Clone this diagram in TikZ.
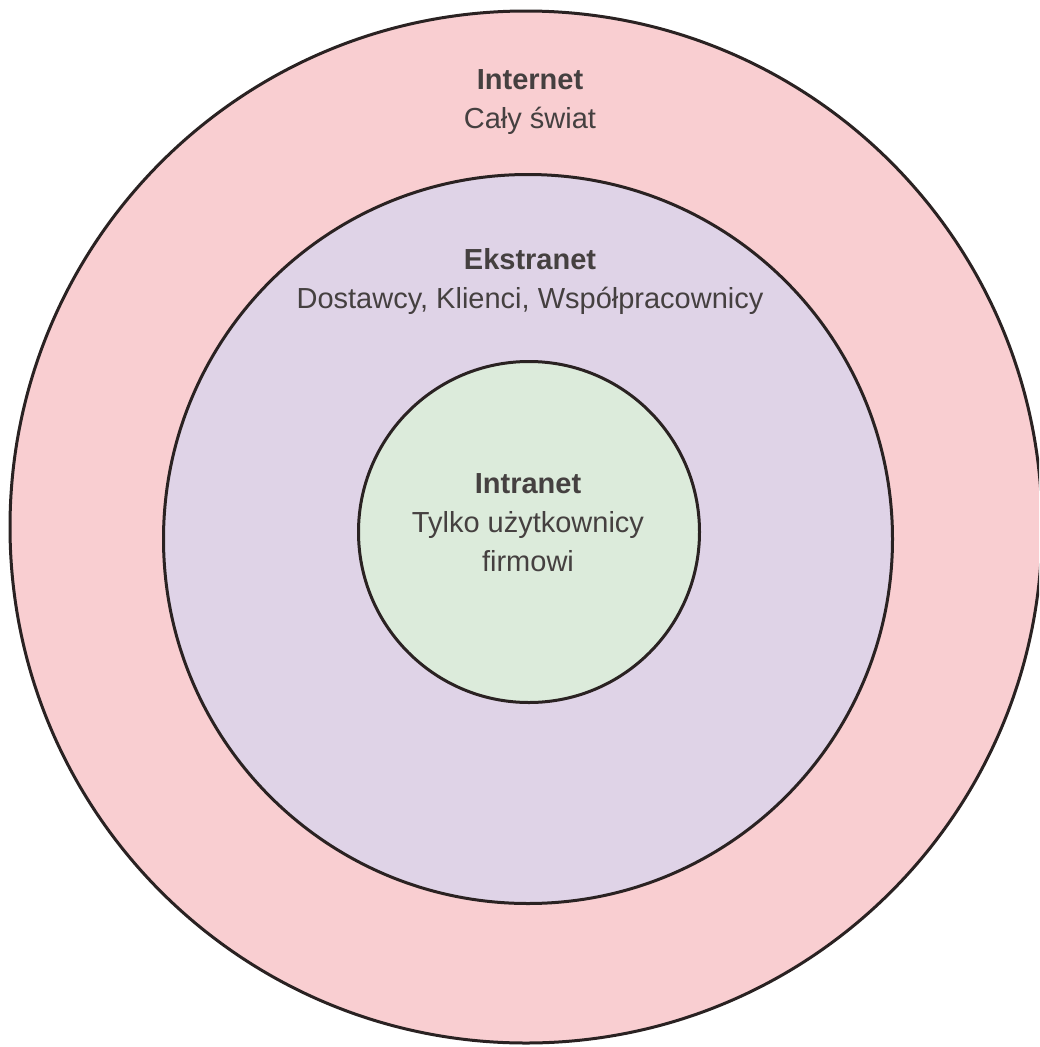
\documentclass[tikz,border=0pt]{standalone}
\usepackage{fontspec}
\setmainfont{Liberation Sans}
\definecolor{pinkfill}{HTML}{F9CED1}
\definecolor{lavfill}{HTML}{DFD3E7}
\definecolor{greenfill}{HTML}{DCEBDB}
\definecolor{edgec}{HTML}{2A2222}
\definecolor{textc}{HTML}{454040}
\tikzset{
  zone/.style={circle, draw=edgec, line width=3pt, inner sep=0pt},
  zonelabel/.style={align=center, text=textc, font=\fontsize{29}{39}\selectfont, inner sep=0pt}
}
\begin{document}
\begin{tikzpicture}[x=1pt,y=-1pt]
\useasboundingbox (0,0) rectangle (1039,1047);
\clip (0,0) rectangle (1039,1047);
\fill[white] (0,0) rectangle (1039,1047);
\node[zone, fill=pinkfill, minimum size=1032pt] (internet) at (526,527) {};
\node[zone, fill=lavfill, minimum size=729pt] (ekstranet) at (528,539) {};
\node[zone, fill=greenfill, minimum size=341pt] (intranet) at (529,532) {};
\node[zonelabel] (internetlbl) at (530,102) {\textbf{Internet}\\Cały świat};
\node[zonelabel] (ekstranetlbl) at (530,281) {\textbf{Ekstranet}\\Dostawcy, Klienci, Współpracownicy};
\node[zonelabel] (intranetlbl) at (528,523) {\textbf{Intranet}\\Tylko użytkownicy\\firmowi};
\end{tikzpicture}
\end{document}
